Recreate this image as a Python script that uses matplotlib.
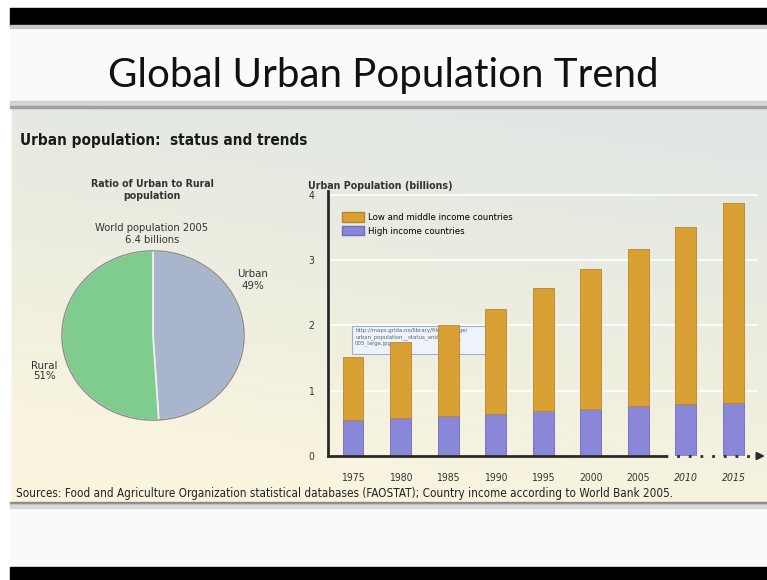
import numpy as np
import matplotlib
matplotlib.use("Agg")
import matplotlib.pyplot as plt
from matplotlib.patches import Rectangle, Ellipse, Patch

# data
years = ['1975', '1980', '1985', '1990', '1995', '2000', '2005', '2010', '2015']
high_income = [0.55, 0.59, 0.62, 0.64, 0.69, 0.72, 0.76, 0.80, 0.81]
low_middle = [0.96, 1.16, 1.38, 1.62, 1.88, 2.15, 2.42, 2.71, 3.06]
pie_labels = ['Urban', 'Rural']
pie_shares = [49, 51]
y_ticks = [0, 1, 2, 3, 4]

narrow = ['DejaVu Sans']
st = 'condensed'
W, H = 767, 580

fig = plt.figure(figsize=(W / 100, H / 100), dpi=100)

# background "slide" drawn in pixel coordinates
bg = fig.add_axes([0, 0, 1, 1])
bg.set_xlim(0, W)
bg.set_ylim(H, 0)
bg.axis('off')
bg.add_patch(Rectangle((0, 0), W, H, color='white', zorder=0))
bg.add_patch(Rectangle((10, 25), W, 542, color='#fafafa', zorder=0))
bg.add_patch(Rectangle((10, 8), W, 17, color='black', zorder=1))
bg.add_patch(Rectangle((10, 567), W, 13, color='black', zorder=1))
bg.add_patch(Rectangle((10, 25), W, 3, color='#c8c8c8', zorder=1))

# panel with a soft gradient
grad = np.linspace(0, 1, 200)[:, None] * np.ones((1, 50))
xg = np.linspace(0, 1, 50)[None, :] * np.ones((200, 1))
top = np.array([0.87, 0.90, 0.89])
bot = np.array([0.98, 0.96, 0.87])
t = np.clip(grad * 0.85 + (1 - xg) * 0.25, 0, 1)[..., None]
img = top * (1 - t) + bot * t
bg.imshow(img, extent=(12, W, 502, 108), aspect='auto', zorder=1)
bg.add_patch(Rectangle((10, 101), W, 7, color='#bdbdbd', alpha=0.6, zorder=1))
bg.add_patch(Rectangle((10, 106), W, 2, color='#9a9a9a', alpha=0.8, zorder=1))
bg.add_patch(Rectangle((10, 502), W, 2, color='#8a8a8a', zorder=1))
bg.add_patch(Rectangle((10, 504), W, 4, color='#cfcfcf', alpha=0.7, zorder=1))

bg.text(383, 87, 'Global Urban Population Trend', ha='center', va='baseline',
        fontsize=29, family=['Lato', 'Open Sans', 'DejaVu Sans'], color='#111111', zorder=3)
bg.text(20, 145, 'Urban population:  status and trends', ha='left', va='baseline',
        fontsize=11, fontweight='bold', family=narrow, stretch=st, color='#1a1a1a', zorder=3)
bg.text(152, 190, 'Ratio of Urban to Rural\npopulation', ha='center', va='center',
        fontsize=7.6, fontweight='bold', family=narrow, stretch=st, color='#333333',
        linespacing=1.25, zorder=3)
bg.text(152, 234, 'World population 2005\n6.4 billions', ha='center', va='center',
        fontsize=8, family=narrow, stretch=st, color='#333333', linespacing=1.3, zorder=3)
bg.text(253, 280, 'Urban\n49%', ha='center', va='center',
        fontsize=8.2, family=narrow, stretch=st, color='#333333', linespacing=1.35, zorder=3)
bg.text(44, 371, 'Rural\n51%', ha='center', va='center',
        fontsize=8.2, family=narrow, stretch=st, color='#333333', linespacing=1.05, zorder=3)
bg.text(308, 186, 'Urban Population (billions)', ha='left', va='center',
        fontsize=7.7, fontweight='bold', family=narrow, stretch=st, color='#333333', zorder=3)
bg.text(16, 497, 'Sources: Food and Agriculture Organization statistical databases (FAOSTAT); '
        'Country income according to World Bank 2005.', ha='left', va='baseline',
        fontsize=8.4, family=narrow, stretch=st, color='#222222', zorder=3)

# pie
pax = fig.add_axes([61 / W, (H - 421) / H, 184 / W, 171 / H])
wedges, _ = pax.pie(pie_shares, colors=['#a9b4cd', '#80cc8e'], startangle=90,
                    counterclock=False, radius=1,
                    wedgeprops=dict(edgecolor='#f2f2f2', linewidth=1.2))
pax.set_aspect('auto')
pax.set_xlim(-1.01, 1.01)
pax.set_ylim(-1.01, 1.01)
pax.add_patch(Ellipse((0, 0), 2, 2, fill=False, edgecolor='#8c8c8c', linewidth=1))

# bar chart
x0, x8 = 353, 733.5
step = (x8 - x0) / 8
left_px, right_px, zero_px, top_px = 328, 767, 456, 191
unit = (456 - 195) / 4
ax = fig.add_axes([left_px / W, (H - zero_px) / H, (right_px - left_px) / W,
                   (zero_px - top_px) / H])
ax.patch.set_alpha(0)
ax.set_xlim(-(x0 - left_px) / step, 8 + (right_px - x8) / step)
ax.set_ylim(0, (zero_px - top_px) / unit)
x = np.arange(len(years))
ax.bar(x, high_income, width=0.44, color='#8a86d8', edgecolor='#6f6bbd', linewidth=0.6, zorder=3)
ax.bar(x, low_middle, bottom=high_income, width=0.44, color='#d9a134',
       edgecolor='#b8852a', linewidth=0.6, zorder=3)
for v in y_ticks[1:]:
    ax.plot([ax.get_xlim()[0], 8.5], [v, v], color='white', lw=1.2, zorder=1)

for s in ['top', 'right', 'bottom']:
    ax.spines[s].set_visible(False)
ax.spines['left'].set_linewidth(2)
ax.spines['left'].set_color('#2a2a2a')
ax.plot([ax.get_xlim()[0], 6.56], [0, 0], color='#2a2a2a', lw=2, clip_on=False, zorder=4)
ax.plot([6.56, 8.45], [0, 0], color='#2a2a2a', lw=2, ls=(0, (1, 3.2)), clip_on=False, zorder=4)
ax.annotate('', xy=(8.72, 0), xytext=(8.45, 0),
            arrowprops=dict(arrowstyle='-|>', color='#2a2a2a', lw=1.5, mutation_scale=11),
            annotation_clip=False, zorder=4)

ax.set_yticks(y_ticks)
ax.set_yticklabels([str(v) for v in y_ticks], family=narrow, stretch=st, fontsize=7.5, color='#333333')
ax.set_xticks(x)
ax.set_xticklabels(years, family=narrow, stretch=st, fontsize=7.5, color='#333333')
for lab in ax.get_xticklabels()[-2:]:
    lab.set_style('italic')
ax.tick_params(axis='x', length=0, pad=12)
ax.tick_params(axis='y', length=0, pad=10)

ax.legend(handles=[Patch(facecolor='#d9a134', edgecolor='#b8852a', label='Low and middle income countries'),
                   Patch(facecolor='#8a86d8', edgecolor='#6f6bbd', label='High income countries')],
          loc='upper left', bbox_to_anchor=(0.023, 0.935), frameon=False,
          prop=dict(family=narrow, stretch=st, size=6.8), handlelength=2.3, handleheight=1.2,
          labelspacing=0.4, handletextpad=0.5, borderaxespad=0)

# tooltip box over the bars
bg.add_patch(Rectangle((352, 326), 138, 28, facecolor='#eef3fb', edgecolor='#9fb0c8',
                       linewidth=0.8, zorder=10))
bg.text(355, 328, 'http://maps.grida.no/library/files/storage/\n'
        'urban_population__status_and_trends_\n005_large.jpg', ha='left', va='top',
        fontsize=4.3, family=narrow, stretch=st, color='#556677', linespacing=1.25, zorder=11)

fig.savefig('out.png', dpi=100)
